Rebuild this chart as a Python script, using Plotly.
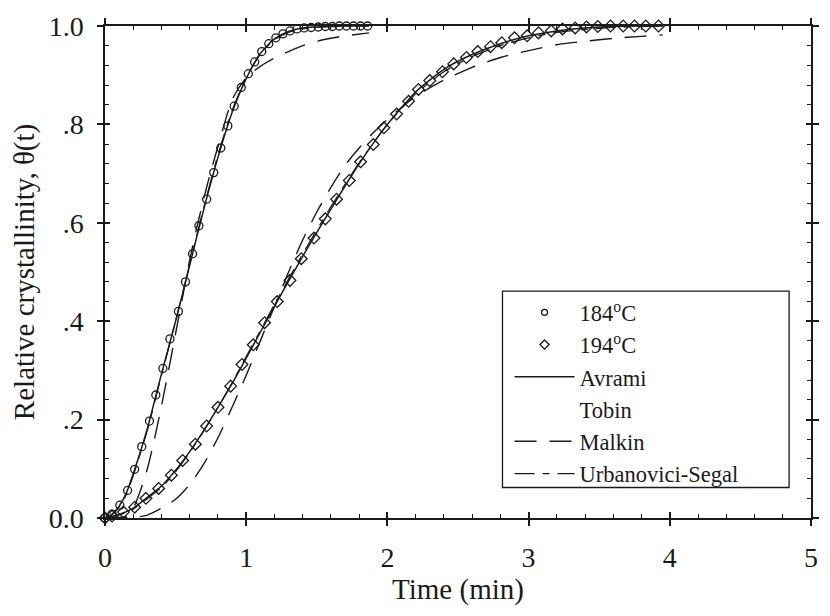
import plotly.graph_objects as go

# ---------------- data ----------------
# 184 °C experimental points
t184 = [0.0, 0.05, 0.105, 0.16, 0.21, 0.26, 0.315, 0.36, 0.41, 0.46, 0.52, 0.57, 0.62,
        0.665, 0.72, 0.77, 0.82, 0.87, 0.915, 0.965, 1.015, 1.06, 1.11, 1.16, 1.21, 1.26,
        1.31, 1.36, 1.41, 1.46, 1.51, 1.56, 1.61, 1.66, 1.71, 1.76, 1.81, 1.86]
th184 = [0.0, 0.008, 0.026, 0.056, 0.099, 0.145, 0.197, 0.25, 0.304, 0.364, 0.42, 0.48, 0.537,
         0.594, 0.648, 0.702, 0.752, 0.797, 0.837, 0.875, 0.903, 0.927, 0.948, 0.964, 0.976, 0.984,
         0.99, 0.994, 0.996, 0.997, 0.998, 0.999, 0.999, 1.0, 1.0, 1.0, 1.0, 1.0]

# 194 °C experimental points
t194 = [0.0, 0.05, 0.13, 0.21, 0.29, 0.38, 0.47, 0.55, 0.64, 0.72,
        0.80, 0.89, 0.97, 1.05, 1.13, 1.22, 1.31, 1.39, 1.48, 1.56,
        1.64, 1.73, 1.81, 1.90, 1.975, 2.065, 2.15, 2.22, 2.30, 2.39,
        2.47, 2.56, 2.64, 2.73, 2.81, 2.90, 2.99, 3.07, 3.16, 3.24,
        3.33, 3.41, 3.49, 3.58, 3.67, 3.75, 3.83, 3.92]
th194 = [0.0, 0.004, 0.012, 0.022, 0.04, 0.06, 0.087, 0.117, 0.15, 0.187,
         0.225, 0.268, 0.312, 0.352, 0.397, 0.44, 0.483, 0.527, 0.569, 0.608,
         0.648, 0.686, 0.724, 0.759, 0.793, 0.821, 0.847, 0.871, 0.889, 0.907,
         0.923, 0.936, 0.948, 0.958, 0.966, 0.976, 0.98, 0.986, 0.99, 0.994,
         0.996, 0.998, 0.999, 1.0, 1.0, 1.0, 1.0, 1.0]

# Avrami fits (solid)
tA184 = [0.0, 0.05, 0.1, 0.15, 0.2, 0.3, 0.4, 0.5, 0.6, 0.7, 0.8, 0.9, 1.0, 1.1,
         1.2, 1.3, 1.4, 1.5, 1.6, 1.7, 1.8, 1.87]
avrami184 = [0.0, 0.008, 0.024, 0.05, 0.09, 0.182, 0.293, 0.40, 0.514, 0.628, 0.733, 0.824,
             0.893, 0.944, 0.974, 0.989, 0.996, 0.998, 0.999, 1.0, 1.0, 1.0]
tA194 = [0.0, 0.1, 0.2, 0.3, 0.4, 0.5, 0.6, 0.7, 0.8, 0.9, 1.0, 1.2, 1.4, 1.6, 1.8,
         2.0, 2.2, 2.4, 2.6, 2.8, 3.0, 3.2, 3.4, 3.6, 3.8, 3.95]
avrami194 = [0.0, 0.007, 0.02, 0.042, 0.065, 0.097, 0.135, 0.178, 0.225, 0.273, 0.325, 0.43,
             0.532, 0.628, 0.72, 0.80, 0.866, 0.912, 0.942, 0.964, 0.98, 0.99, 0.996, 0.999,
             1.0, 1.0]

# Urbanovici-Segal fits (long-short dash, close to Avrami)
urb184 = [0.0, 0.007, 0.022, 0.047, 0.086, 0.178, 0.29, 0.40, 0.516, 0.632, 0.738, 0.828,
          0.895, 0.943, 0.972, 0.987, 0.994, 0.997, 0.999, 1.0, 1.0, 1.0]
urb194 = [0.0, 0.006, 0.018, 0.039, 0.062, 0.094, 0.133, 0.177, 0.225, 0.275, 0.328, 0.434,
          0.537, 0.633, 0.722, 0.80, 0.862, 0.907, 0.938, 0.96, 0.976, 0.987, 0.993, 0.997,
          0.999, 1.0]

# Malkin fits (dashed)
tM184 = [0.0, 0.15, 0.2, 0.25, 0.3, 0.35, 0.4, 0.45, 0.5, 0.55, 0.6, 0.65, 0.7, 0.75,
         0.8, 0.9, 1.0, 1.1, 1.2, 1.3, 1.4, 1.5, 1.6, 1.7, 1.87]
malkin184 = [0.0, 0.004, 0.02, 0.055, 0.1, 0.16, 0.228, 0.3, 0.375, 0.45, 0.525, 0.59, 0.65,
             0.705, 0.755, 0.85, 0.895, 0.918, 0.935, 0.948, 0.96, 0.969, 0.975, 0.98, 0.986]
tM194 = [0.0, 0.2, 0.3, 0.4, 0.5, 0.6, 0.7, 0.8, 0.9, 1.0, 1.1, 1.2, 1.3, 1.4, 1.5, 1.6,
         1.7, 1.8, 1.9, 2.0, 2.2, 2.4, 2.6, 2.8, 3.0, 3.2, 3.4, 3.6, 3.8, 3.95]
malkin194 = [0.0, 0.001, 0.006, 0.02, 0.038, 0.068, 0.11, 0.163, 0.225, 0.29, 0.36, 0.43,
             0.50, 0.565, 0.622, 0.672, 0.717, 0.752, 0.783, 0.81, 0.857, 0.89, 0.916, 0.936,
             0.95, 0.962, 0.969, 0.975, 0.979, 0.982]

x_ticks = [0, 1, 2, 3, 4, 5]
y_ticks = [0.0, 0.2, 0.4, 0.6, 0.8, 1.0]
y_ticktext = ["0.0", ".2", ".4", ".6", ".8", "1.0"]

INK = "#1a1a1a"
FONT = "Liberation Serif, Times New Roman, serif"
MALKIN_DASH = "22px,13px"
URB_DASH = "20px,8px,7px,8px"

fig = go.Figure()


def spline_line(width, dash=None):
    d = dict(color=INK, width=width, shape="spline", smoothing=0.6)
    if dash:
        d["dash"] = dash
    return d


# data points (legend shown via small legend-only markers below)
fig.add_trace(go.Scatter(x=t184, y=th184, mode="markers", name="184<sup>o</sup>C",
                         cliponaxis=False, showlegend=False,
                         marker=dict(symbol="circle-open", size=8, color=INK,
                                     line=dict(width=1.3, color=INK))))
fig.add_trace(go.Scatter(x=t194, y=th194, mode="markers", name="194<sup>o</sup>C",
                         cliponaxis=False, showlegend=False,
                         marker=dict(symbol="diamond-open", size=9, color=INK,
                                     line=dict(width=1.3, color=INK))))
fig.add_trace(go.Scatter(x=[None], y=[None], mode="markers", name="184<sup>o</sup>C",
                         marker=dict(symbol="circle-open", size=6, color=INK,
                                     line=dict(width=1.3, color=INK))))
fig.add_trace(go.Scatter(x=[None], y=[None], mode="markers", name="194<sup>o</sup>C",
                         marker=dict(symbol="diamond-open", size=7, color=INK,
                                     line=dict(width=1.3, color=INK))))

# Avrami
fig.add_trace(go.Scatter(x=tA184, y=avrami184, mode="lines", name="Avrami", legendgroup="av",
                         line=spline_line(1.5)))
fig.add_trace(go.Scatter(x=tA194, y=avrami194, mode="lines", name="Avrami", legendgroup="av",
                         showlegend=False, line=spline_line(1.5)))
# Tobin (no visible line sample in the legend)
fig.add_trace(go.Scatter(x=tA184, y=avrami184, mode="lines", name="Tobin", legendgroup="tb",
                         line=dict(color="rgba(0,0,0,0)", width=1)))
fig.add_trace(go.Scatter(x=tA194, y=avrami194, mode="lines", name="Tobin", legendgroup="tb",
                         showlegend=False, line=dict(color="rgba(0,0,0,0)", width=1)))
# Malkin
fig.add_trace(go.Scatter(x=tM184, y=malkin184, mode="lines", name="Malkin", legendgroup="mk",
                         line=spline_line(1.4, MALKIN_DASH)))
fig.add_trace(go.Scatter(x=tM194, y=malkin194, mode="lines", name="Malkin", legendgroup="mk",
                         showlegend=False, line=spline_line(1.4, MALKIN_DASH)))
# Urbanovici-Segal
fig.add_trace(go.Scatter(x=tA184, y=urb184, mode="lines", name="Urbanovici-Segal",
                         legendgroup="us", line=spline_line(1.2, URB_DASH)))
fig.add_trace(go.Scatter(x=tA194, y=urb194, mode="lines", name="Urbanovici-Segal",
                         legendgroup="us", showlegend=False, line=spline_line(1.2, URB_DASH)))

# dummy traces for overlay axes that draw the outer half of the major ticks
fig.add_trace(go.Scatter(x=[None], y=[None], xaxis="x2", yaxis="y", showlegend=False,
                         hoverinfo="skip"))
fig.add_trace(go.Scatter(x=[None], y=[None], xaxis="x", yaxis="y2", showlegend=False,
                         hoverinfo="skip"))

axis_common = dict(showgrid=False, zeroline=False, showline=True, linecolor=INK,
                   linewidth=1.5, tickcolor=INK, tickwidth=1.5, mirror="ticks")

# legend frame (decoration, in paper coordinates)
fig.add_shape(type="rect", xref="paper", yref="paper", x0=0.563, x1=0.969, y0=0.062, y1=0.461,
              line=dict(color=INK, width=1.3), fillcolor="rgba(0,0,0,0)", layer="above")

fig.update_layout(
    width=830, height=616,
    margin=dict(l=105, r=11, t=21, b=98),
    paper_bgcolor="white", plot_bgcolor="white",
    font=dict(family=FONT, size=28, color=INK),
    showlegend=True,
    legend=dict(x=0.573, y=0.461, xanchor="left", yanchor="top",
                borderwidth=0, bgcolor="rgba(255,255,255,0)",
                font=dict(family=FONT, size=22.5, color=INK),
                tracegroupgap=0, itemwidth=60),
    xaxis=dict(range=[0, 5], tickvals=x_ticks, ticks="inside", ticklen=6,
               ticklabelstandoff=14,
               minor=dict(ticks="inside", ticklen=4, dtick=0.2, tick0=0, tickcolor=INK,
                          tickwidth=1.2, showgrid=False),
               title=dict(text="Time (min)", font=dict(size=29), standoff=4),
               **axis_common),
    yaxis=dict(range=[0, 1], tickvals=y_ticks, ticktext=y_ticktext, ticks="inside",
               ticklen=5, ticklabelstandoff=14,
               minor=dict(ticks="inside", ticklen=4, dtick=0.04, tick0=0, tickcolor=INK,
                          tickwidth=1.2, showgrid=False),
               title=dict(text="Relative crystallinity, θ(t)", font=dict(size=29), standoff=6),
               **axis_common),
    xaxis2=dict(overlaying="x", anchor="y", side="bottom", range=[0, 5], tickvals=x_ticks,
                ticks="outside", ticklen=6, showticklabels=False, **axis_common),
    yaxis2=dict(overlaying="y", anchor="x", side="left", range=[0, 1], tickvals=y_ticks,
                ticks="outside", ticklen=6, showticklabels=False, **axis_common),
)

fig.write_html("out.html")
